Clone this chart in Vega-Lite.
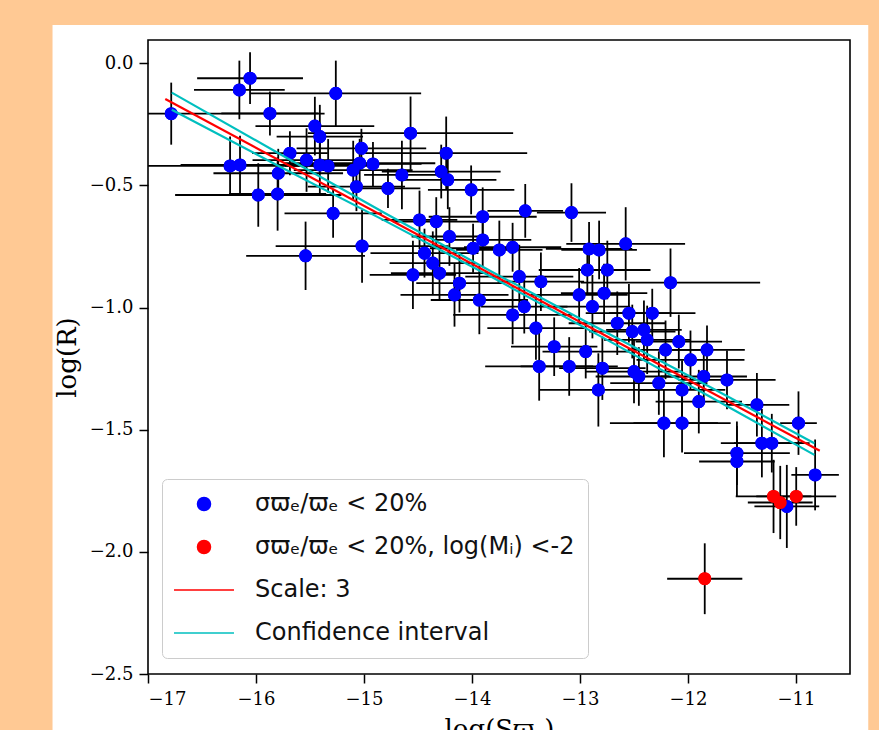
{
  "$schema": "https://vega.github.io/schema/vega-lite/v6.json",
  "autosize": {"type": "none"},
  "width": 702,
  "height": 634,
  "padding": {"left": 148, "top": 40, "right": 29, "bottom": 56},
  "background": "white",
  "config": {"view": {"stroke": null}},
  "datasets": {
    "stars": [
      {"x": -16.785, "y": -0.206, "xe": 1.42, "ye": 0.127, "sample": "σϖₑ/ϖₑ < 20%"},
      {"x": -16.055, "y": -0.061, "xe": 0.49, "ye": 0.106, "sample": "σϖₑ/ϖₑ < 20%"},
      {"x": -16.154, "y": -0.109, "xe": 0.42, "ye": 0.12, "sample": "σϖₑ/ϖₑ < 20%"},
      {"x": -15.261, "y": -0.123, "xe": 0.79, "ye": 0.134, "sample": "σϖₑ/ϖₑ < 20%"},
      {"x": -15.871, "y": -0.205, "xe": 0.45, "ye": 0.09, "sample": "σϖₑ/ϖₑ < 20%"},
      {"x": -14.569, "y": -0.286, "xe": 0.95, "ye": 0.15, "sample": "σϖₑ/ϖₑ < 20%"},
      {"x": -15.455, "y": -0.257, "xe": 0.55, "ye": 0.12, "sample": "σϖₑ/ϖₑ < 20%"},
      {"x": -15.409, "y": -0.3, "xe": 0.4, "ye": 0.13, "sample": "σϖₑ/ϖₑ < 20%"},
      {"x": -16.24, "y": -0.42, "xe": 0.95, "ye": 0.12, "sample": "σϖₑ/ϖₑ < 20%"},
      {"x": -16.148, "y": -0.416, "xe": 0.55, "ye": 0.12, "sample": "σϖₑ/ϖₑ < 20%"},
      {"x": -15.979, "y": -0.539, "xe": 0.77, "ye": 0.13, "sample": "σϖₑ/ϖₑ < 20%"},
      {"x": -15.8, "y": -0.535, "xe": 0.45, "ye": 0.15, "sample": "σϖₑ/ϖₑ < 20%"},
      {"x": -15.794, "y": -0.45, "xe": 0.6, "ye": 0.1, "sample": "σϖₑ/ϖₑ < 20%"},
      {"x": -15.686, "y": -0.368, "xe": 0.35, "ye": 0.09, "sample": "σϖₑ/ϖₑ < 20%"},
      {"x": -15.532, "y": -0.396, "xe": 0.5, "ye": 0.13, "sample": "σϖₑ/ϖₑ < 20%"},
      {"x": -15.409, "y": -0.416, "xe": 0.45, "ye": 0.12, "sample": "σϖₑ/ϖₑ < 20%"},
      {"x": -15.332, "y": -0.42, "xe": 0.4, "ye": 0.11, "sample": "σϖₑ/ϖₑ < 20%"},
      {"x": -15.024, "y": -0.348, "xe": 0.6, "ye": 0.08, "sample": "σϖₑ/ϖₑ < 20%"},
      {"x": -15.04, "y": -0.409, "xe": 0.7, "ye": 0.1, "sample": "σϖₑ/ϖₑ < 20%"},
      {"x": -14.917, "y": -0.412, "xe": 0.45, "ye": 0.09, "sample": "σϖₑ/ϖₑ < 20%"},
      {"x": -15.1, "y": -0.437, "xe": 0.55, "ye": 0.12, "sample": "σϖₑ/ϖₑ < 20%"},
      {"x": -15.07, "y": -0.505, "xe": 0.45, "ye": 0.1, "sample": "σϖₑ/ϖₑ < 20%"},
      {"x": -15.286, "y": -0.614, "xe": 0.45, "ye": 0.1, "sample": "σϖₑ/ϖₑ < 20%"},
      {"x": -14.649, "y": -0.457, "xe": 0.35, "ye": 0.14, "sample": "σϖₑ/ϖₑ < 20%"},
      {"x": -14.778, "y": -0.512, "xe": 0.3, "ye": 0.08, "sample": "σϖₑ/ϖₑ < 20%"},
      {"x": -14.239, "y": -0.368, "xe": 0.75, "ye": 0.15, "sample": "σϖₑ/ϖₑ < 20%"},
      {"x": -14.285, "y": -0.443, "xe": 0.55, "ye": 0.11, "sample": "σϖₑ/ϖₑ < 20%"},
      {"x": -14.224, "y": -0.477, "xe": 0.45, "ye": 0.12, "sample": "σϖₑ/ϖₑ < 20%"},
      {"x": -14.008, "y": -0.518, "xe": 0.4, "ye": 0.1, "sample": "σϖₑ/ϖₑ < 20%"},
      {"x": -15.541, "y": -0.788, "xe": 0.55, "ye": 0.14, "sample": "σϖₑ/ϖₑ < 20%"},
      {"x": -15.018, "y": -0.748, "xe": 0.8, "ye": 0.15, "sample": "σϖₑ/ϖₑ < 20%"},
      {"x": -14.547, "y": -0.866, "xe": 0.4, "ye": 0.14, "sample": "σϖₑ/ϖₑ < 20%"},
      {"x": -14.486, "y": -0.641, "xe": 0.35, "ye": 0.12, "sample": "σϖₑ/ϖₑ < 20%"},
      {"x": -14.331, "y": -0.648, "xe": 0.4, "ye": 0.1, "sample": "σϖₑ/ϖₑ < 20%"},
      {"x": -14.209, "y": -0.709, "xe": 0.35, "ye": 0.12, "sample": "σϖₑ/ϖₑ < 20%"},
      {"x": -14.44, "y": -0.777, "xe": 0.5, "ye": 0.1, "sample": "σϖₑ/ϖₑ < 20%"},
      {"x": -14.363, "y": -0.818, "xe": 0.4, "ye": 0.13, "sample": "σϖₑ/ϖₑ < 20%"},
      {"x": -14.301, "y": -0.859, "xe": 0.45, "ye": 0.11, "sample": "σϖₑ/ϖₑ < 20%"},
      {"x": -14.116, "y": -0.9, "xe": 0.4, "ye": 0.12, "sample": "σϖₑ/ϖₑ < 20%"},
      {"x": -14.162, "y": -0.948, "xe": 0.5, "ye": 0.13, "sample": "σϖₑ/ϖₑ < 20%"},
      {"x": -13.932, "y": -0.969, "xe": 0.45, "ye": 0.14, "sample": "σϖₑ/ϖₑ < 20%"},
      {"x": -13.901, "y": -0.628, "xe": 0.5, "ye": 0.12, "sample": "σϖₑ/ϖₑ < 20%"},
      {"x": -13.901, "y": -0.723, "xe": 0.45, "ye": 0.11, "sample": "σϖₑ/ϖₑ < 20%"},
      {"x": -13.99, "y": -0.757, "xe": 0.4, "ye": 0.1, "sample": "σϖₑ/ϖₑ < 20%"},
      {"x": -13.507, "y": -0.604, "xe": 0.35, "ye": 0.11, "sample": "σϖₑ/ϖₑ < 20%"},
      {"x": -13.079, "y": -0.611, "xe": 0.32, "ye": 0.12, "sample": "σϖₑ/ϖₑ < 20%"},
      {"x": -13.624, "y": -0.753, "xe": 0.45, "ye": 0.1, "sample": "σϖₑ/ϖₑ < 20%"},
      {"x": -13.747, "y": -0.764, "xe": 0.4, "ye": 0.12, "sample": "σϖₑ/ϖₑ < 20%"},
      {"x": -12.916, "y": -0.76, "xe": 0.4, "ye": 0.11, "sample": "σϖₑ/ϖₑ < 20%"},
      {"x": -12.823, "y": -0.764, "xe": 0.35, "ye": 0.12, "sample": "σϖₑ/ϖₑ < 20%"},
      {"x": -12.577, "y": -0.739, "xe": 0.55, "ye": 0.15, "sample": "σϖₑ/ϖₑ < 20%"},
      {"x": -12.932, "y": -0.846, "xe": 0.45, "ye": 0.1, "sample": "σϖₑ/ϖₑ < 20%"},
      {"x": -12.747, "y": -0.846, "xe": 0.4, "ye": 0.12, "sample": "σϖₑ/ϖₑ < 20%"},
      {"x": -13.562, "y": -0.873, "xe": 0.5, "ye": 0.13, "sample": "σϖₑ/ϖₑ < 20%"},
      {"x": -13.362, "y": -0.894, "xe": 0.4, "ye": 0.12, "sample": "σϖₑ/ϖₑ < 20%"},
      {"x": -12.162, "y": -0.898, "xe": 0.83, "ye": 0.14, "sample": "σϖₑ/ϖₑ < 20%"},
      {"x": -13.008, "y": -0.948, "xe": 0.45, "ye": 0.11, "sample": "σϖₑ/ϖₑ < 20%"},
      {"x": -12.777, "y": -0.941, "xe": 0.4, "ye": 0.12, "sample": "σϖₑ/ϖₑ < 20%"},
      {"x": -12.885, "y": -0.996, "xe": 0.35, "ye": 0.13, "sample": "σϖₑ/ϖₑ < 20%"},
      {"x": -13.624, "y": -1.03, "xe": 0.55, "ye": 0.12, "sample": "σϖₑ/ϖₑ < 20%"},
      {"x": -13.516, "y": -0.996, "xe": 0.4, "ye": 0.11, "sample": "σϖₑ/ϖₑ < 20%"},
      {"x": -13.408, "y": -1.084, "xe": 0.45, "ye": 0.13, "sample": "σϖₑ/ϖₑ < 20%"},
      {"x": -13.239, "y": -1.16, "xe": 0.4, "ye": 0.12, "sample": "σϖₑ/ϖₑ < 20%"},
      {"x": -13.378, "y": -1.241, "xe": 0.5, "ye": 0.14, "sample": "σϖₑ/ϖₑ < 20%"},
      {"x": -13.1, "y": -1.241, "xe": 0.45, "ye": 0.12, "sample": "σϖₑ/ϖₑ < 20%"},
      {"x": -12.947, "y": -1.18, "xe": 0.4, "ye": 0.11, "sample": "σϖₑ/ϖₑ < 20%"},
      {"x": -12.793, "y": -1.248, "xe": 0.4, "ye": 0.13, "sample": "σϖₑ/ϖₑ < 20%"},
      {"x": -12.83, "y": -1.337, "xe": 0.55, "ye": 0.15, "sample": "σϖₑ/ϖₑ < 20%"},
      {"x": -12.547, "y": -1.023, "xe": 0.4, "ye": 0.12, "sample": "σϖₑ/ϖₑ < 20%"},
      {"x": -12.655, "y": -1.064, "xe": 0.45, "ye": 0.13, "sample": "σϖₑ/ϖₑ < 20%"},
      {"x": -12.331, "y": -1.023, "xe": 0.4, "ye": 0.1, "sample": "σϖₑ/ϖₑ < 20%"},
      {"x": -12.408, "y": -1.091, "xe": 0.35, "ye": 0.12, "sample": "σϖₑ/ϖₑ < 20%"},
      {"x": -12.378, "y": -1.132, "xe": 0.4, "ye": 0.14, "sample": "σϖₑ/ϖₑ < 20%"},
      {"x": -12.516, "y": -1.098, "xe": 0.4, "ye": 0.11, "sample": "σϖₑ/ϖₑ < 20%"},
      {"x": -12.208, "y": -1.173, "xe": 0.35, "ye": 0.12, "sample": "σϖₑ/ϖₑ < 20%"},
      {"x": -12.085, "y": -1.139, "xe": 0.4, "ye": 0.11, "sample": "σϖₑ/ϖₑ < 20%"},
      {"x": -12.5, "y": -1.262, "xe": 0.45, "ye": 0.13, "sample": "σϖₑ/ϖₑ < 20%"},
      {"x": -12.455, "y": -1.282, "xe": 0.4, "ye": 0.12, "sample": "σϖₑ/ϖₑ < 20%"},
      {"x": -12.27, "y": -1.309, "xe": 0.45, "ye": 0.13, "sample": "σϖₑ/ϖₑ < 20%"},
      {"x": -12.055, "y": -1.337, "xe": 0.4, "ye": 0.12, "sample": "σϖₑ/ϖₑ < 20%"},
      {"x": -11.977, "y": -1.214, "xe": 0.5, "ye": 0.12, "sample": "σϖₑ/ϖₑ < 20%"},
      {"x": -11.824, "y": -1.173, "xe": 0.35, "ye": 0.1, "sample": "σϖₑ/ϖₑ < 20%"},
      {"x": -12.223, "y": -1.473, "xe": 0.5, "ye": 0.14, "sample": "σϖₑ/ϖₑ < 20%"},
      {"x": -12.055, "y": -1.473, "xe": 0.45, "ye": 0.12, "sample": "σϖₑ/ϖₑ < 20%"},
      {"x": -11.9, "y": -1.385, "xe": 0.4, "ye": 0.13, "sample": "σϖₑ/ϖₑ < 20%"},
      {"x": -11.639, "y": -1.296, "xe": 0.45, "ye": 0.12, "sample": "σϖₑ/ϖₑ < 20%"},
      {"x": -11.854, "y": -1.282, "xe": 0.4, "ye": 0.11, "sample": "σϖₑ/ϖₑ < 20%"},
      {"x": -11.362, "y": -1.398, "xe": 0.3, "ye": 0.13, "sample": "σϖₑ/ϖₑ < 20%"},
      {"x": -10.977, "y": -1.473, "xe": 0.17, "ye": 0.13, "sample": "σϖₑ/ϖₑ < 20%"},
      {"x": -11.316, "y": -1.555, "xe": 0.38, "ye": 0.14, "sample": "σϖₑ/ϖₑ < 20%"},
      {"x": -11.224, "y": -1.555, "xe": 0.35, "ye": 0.12, "sample": "σϖₑ/ϖₑ < 20%"},
      {"x": -11.547, "y": -1.596, "xe": 0.49, "ye": 0.13, "sample": "σϖₑ/ϖₑ < 20%"},
      {"x": -11.547, "y": -1.63, "xe": 0.35, "ye": 0.145, "sample": "σϖₑ/ϖₑ < 20%"},
      {"x": -10.823, "y": -1.685, "xe": 0.22, "ye": 0.145, "sample": "σϖₑ/ϖₑ < 20%"},
      {"x": -11.085, "y": -1.814, "xe": 0.3, "ye": 0.17, "sample": "σϖₑ/ϖₑ < 20%"},
      {"x": -11.208, "y": -1.773, "xe": 0.35, "ye": 0.15, "sample": "σϖₑ/ϖₑ < 20%, log(Mᵢ) <-2"},
      {"x": -11.146, "y": -1.798, "xe": 0.3, "ye": 0.15, "sample": "σϖₑ/ϖₑ < 20%, log(Mᵢ) <-2"},
      {"x": -10.998, "y": -1.773, "xe": 0.37, "ye": 0.12, "sample": "σϖₑ/ϖₑ < 20%, log(Mᵢ) <-2"},
      {"x": -11.845, "y": -2.11, "xe": 0.348, "ye": 0.145, "sample": "σϖₑ/ϖₑ < 20%, log(Mᵢ) <-2"}
    ],
    "fit": [
      {"x": -16.78, "y": -0.12, "part": "upper", "sample": "Confidence interval"},
      {"x": -15.8, "y": -0.366, "part": "upper", "sample": "Confidence interval"},
      {"x": -14.8, "y": -0.615, "part": "upper", "sample": "Confidence interval"},
      {"x": -13.8, "y": -0.857, "part": "upper", "sample": "Confidence interval"},
      {"x": -12.8, "y": -1.092, "part": "upper", "sample": "Confidence interval"},
      {"x": -11.8, "y": -1.324, "part": "upper", "sample": "Confidence interval"},
      {"x": -10.83, "y": -1.555, "part": "upper", "sample": "Confidence interval"},
      {"x": -16.78, "y": -0.19, "part": "lower", "sample": "Confidence interval"},
      {"x": -15.8, "y": -0.418, "part": "lower", "sample": "Confidence interval"},
      {"x": -14.8, "y": -0.646, "part": "lower", "sample": "Confidence interval"},
      {"x": -13.8, "y": -0.879, "part": "lower", "sample": "Confidence interval"},
      {"x": -12.8, "y": -1.12, "part": "lower", "sample": "Confidence interval"},
      {"x": -11.8, "y": -1.364, "part": "lower", "sample": "Confidence interval"},
      {"x": -10.83, "y": -1.603, "part": "lower", "sample": "Confidence interval"},
      {"x": -16.84, "y": -0.146, "part": "fit", "sample": "Scale: 3"},
      {"x": -10.78, "y": -1.586, "part": "fit", "sample": "Scale: 3"}
    ]
  },
  "layer": [
    {
      "data": {"name": "stars"},
      "mark": {"type": "point", "filled": true, "opacity": 1, "size": 170},
      "encoding": {
        "x": {"field": "x", "type": "quantitative", "title": "log(Sϖₑ)", "scale": {"domain": [-17, -10.5], "nice": false, "zero": false},
              "axis": {"orient": "bottom", "values": [-17, -16, -15, -14, -13, -12, -11], "format": "d",
                       "domain": false, "grid": false, "ticks": true, "labels": true,
                       "tickColor": "black", "tickWidth": 1.5, "tickSize": 9,
                       "labelFont": "DejaVu Serif", "labelFontSize": 18, "labelColor": "black", "labelPadding": 7,
                       "titleFont": "DejaVu Serif", "titleFontSize": 26, "titleFontWeight": "normal", "titleColor": "black", "titlePadding": 8}},
        "y": {"field": "y", "type": "quantitative", "title": "log(R)", "scale": {"domain": [-2.5, 0.0955], "nice": false, "zero": false},
              "axis": {"orient": "left", "values": [0, -0.5, -1, -1.5, -2, -2.5], "format": ".1f",
                       "domain": false, "grid": false, "ticks": true, "labels": true,
                       "tickColor": "black", "tickWidth": 1.5, "tickSize": 9,
                       "labelFont": "DejaVu Serif", "labelFontSize": 18, "labelColor": "black", "labelPadding": 6,
                       "titleFont": "DejaVu Serif", "titleFontSize": 26, "titleFontWeight": "normal", "titleColor": "black", "titlePadding": 9}},
        "color": {
          "field": "sample", "type": "nominal",
          "scale": {"domain": ["σϖₑ/ϖₑ < 20%", "σϖₑ/ϖₑ < 20%, log(Mᵢ) <-2", "Scale: 3", "Confidence interval"],
                    "range": ["#0000ff", "#ff0000", "#ff0000", "#00bfbf"]},
          "legend": {
            "title": null, "orient": "none", "legendX": 14, "legendY": 439,
            "padding": 13, "symbolSize": 170, "symbolOffset": 17, "labelOffset": 39, "rowPadding": 19,
            "labelFont": "DejaVu Sans", "labelFontSize": 24, "labelColor": "#111111", "labelLimit": 600,
            "fillColor": "rgba(255,255,255,0.8)", "strokeColor": "#cccccc", "cornerRadius": 5,
            "encode": {"symbols": {
              "strokeWidth": {"condition": {"test": "datum.value == 'Scale: 3' || datum.value == 'Confidence interval'", "value": 2}, "value": 0}
            }}
          }
        },
        "shape": {
          "field": "sample", "type": "nominal",
          "scale": {"domain": ["σϖₑ/ϖₑ < 20%", "σϖₑ/ϖₑ < 20%, log(Mᵢ) <-2", "Scale: 3", "Confidence interval"],
                    "range": ["circle", "circle", "M-4.6,0H4.6", "M-4.6,0H4.6"]},
          "legend": {
            "title": null, "orient": "none", "legendX": 14, "legendY": 439,
            "padding": 13, "symbolSize": 170, "symbolOffset": 17, "labelOffset": 39, "rowPadding": 19,
            "labelFont": "DejaVu Sans", "labelFontSize": 24, "labelColor": "#111111", "labelLimit": 600,
            "fillColor": "rgba(255,255,255,0.8)", "strokeColor": "#cccccc", "cornerRadius": 5,
            "encode": {"symbols": {
              "strokeWidth": {"condition": {"test": "datum.value == 'Scale: 3' || datum.value == 'Confidence interval'", "value": 2}, "value": 0}
            }}
          }
        }
      }
    },
    {
      "data": {"values": [{}]},
      "mark": {"type": "rect", "color": "#ffc994", "clip": false},
      "encoding": {
        "x": {"datum": -19, "type": "quantitative", "title": "log(Sϖₑ)"},
        "x2": {"datum": -17.884},
        "y": {"datum": 0.4, "type": "quantitative", "title": "log(R)"},
        "y2": {"datum": -2.9}
      }
    },
    {
      "data": {"values": [{}]},
      "mark": {"type": "rect", "color": "#ffc994", "clip": false},
      "encoding": {
        "x": {"datum": -19, "type": "quantitative", "title": "log(Sϖₑ)"},
        "x2": {"datum": -9.9},
        "y": {"datum": 0.4, "type": "quantitative", "title": "log(R)"},
        "y2": {"datum": 0.157}
      }
    },
    {
      "data": {"values": [{}]},
      "mark": {"type": "rect", "color": "#ffc994", "clip": false},
      "encoding": {
        "x": {"datum": -10.331, "type": "quantitative", "title": "log(Sϖₑ)"},
        "x2": {"datum": -9.9},
        "y": {"datum": 0.4, "type": "quantitative", "title": "log(R)"},
        "y2": {"datum": -2.9}
      }
    },
    {
      "data": {"name": "stars"},
      "mark": {"type": "errorbar", "clip": true, "color": "black", "rule": {"strokeWidth": 1.8}},
      "encoding": {
        "x": {"field": "x", "type": "quantitative", "title": "log(Sϖₑ)"},
        "xError": {"field": "xe"},
        "y": {"field": "y", "type": "quantitative", "title": "log(R)"}
      }
    },
    {
      "data": {"name": "stars"},
      "mark": {"type": "errorbar", "clip": true, "color": "black", "rule": {"strokeWidth": 1.8}},
      "encoding": {
        "x": {"field": "x", "type": "quantitative", "title": "log(Sϖₑ)"},
        "y": {"field": "y", "type": "quantitative", "title": "log(R)"},
        "yError": {"field": "ye"}
      }
    },
    {
      "data": {"name": "stars"},
      "mark": {"type": "point", "filled": true, "opacity": 1, "size": 170},
      "encoding": {
        "x": {"field": "x", "type": "quantitative", "title": "log(Sϖₑ)"},
        "y": {"field": "y", "type": "quantitative", "title": "log(R)"},
        "color": {"field": "sample", "type": "nominal", "legend": null}
      }
    },
    {
      "data": {"name": "fit"},
      "mark": {"type": "line", "strokeWidth": 2.2, "clip": true},
      "encoding": {
        "x": {"field": "x", "type": "quantitative", "title": "log(Sϖₑ)"},
        "y": {"field": "y", "type": "quantitative", "title": "log(R)"},
        "color": {"field": "sample", "type": "nominal", "legend": null},
        "detail": {"field": "part"}
      }
    },
    {
      "data": {"values": [{}]},
      "mark": {"type": "rect", "filled": false, "color": "black", "strokeWidth": 1.6, "clip": false},
      "encoding": {
        "x": {"datum": -17, "type": "quantitative", "title": "log(Sϖₑ)"},
        "x2": {"datum": -10.5},
        "y": {"datum": 0.0955, "type": "quantitative", "title": "log(R)"},
        "y2": {"datum": -2.5}
      }
    }
  ]
}
